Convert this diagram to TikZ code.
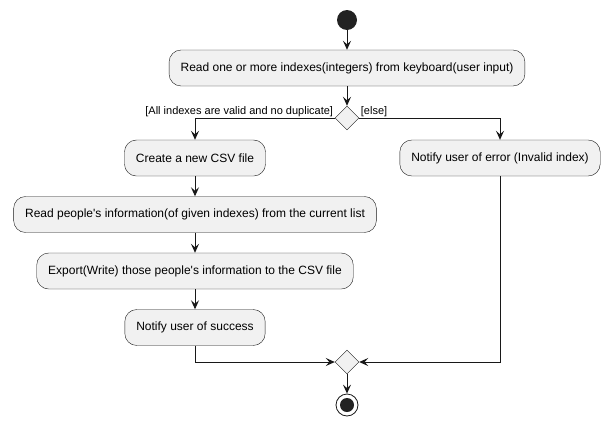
\documentclass[tikz,border=0pt]{standalone}
\usepackage{fontspec}
\setmainfont{Liberation Sans}
\usetikzlibrary{shapes.geometric, arrows.meta, positioning}
\definecolor{umlFill}{HTML}{F1F1F1}
\definecolor{umlLine}{HTML}{181818}
\definecolor{umlDot}{HTML}{222222}
\tikzstyle{mcAction} = [draw=umlLine, fill=umlFill, rounded corners=12pt, minimum height=36pt, inner xsep=11.5pt, font=\fontsize{12}{14}\selectfont]
\tikzstyle{mcBranch} = [draw=umlLine, fill=umlFill, diamond, aspect=1, minimum size=24pt, inner sep=0pt]
\tikzstyle{mcStart} = [circle, fill=umlDot, minimum size=20pt, inner sep=0pt]
\tikzstyle{mcGuard} = [font=\fontsize{11}{13}\selectfont, inner sep=1.5pt]
\tikzstyle{mcFlow} = [-{Stealth[length=9pt, width=8pt, inset=3.5pt]}, umlLine, line width=0.9pt]

\begin{document}
\begin{tikzpicture}[x=1pt, y=-1pt, node distance=56.5pt]
        \useasboundingbox (0,0) rectangle (608,426);
        % Nodes
        \node [mcStart] (start) at (347,20) {};
        \node [mcAction] (readIdx) at (347,68) {Read one or more indexes(integers) from keyboard(user input)};
        \node [mcBranch] (check) at (347,118) {};

        \node [mcAction] (create) at (195,158) {Create a new CSV file};
        \node [mcAction, below of=create] (readInfo) {Read people\textquotesingle s information(of given indexes) from the current list};
        \node [mcAction, below of=readInfo] (export) {Export(Write) those people\textquotesingle s information to the CSV file};
        \node [mcAction, below of=export] (success) {Notify user of success};

        \node [mcAction] (error) at (500,158) {Notify user of error (Invalid index)};

        \node [mcBranch] (merge) at (347,362) {};
        \node [circle, draw=umlLine, fill=white, line width=0.8pt, minimum size=22pt, inner sep=0pt] (stop) at (347,405) {};
        \node [circle, fill=umlDot, minimum size=14pt, inner sep=0pt] at (stop) {};

        % Guards
        \node [mcGuard, anchor=south east] at (check.west) {[All indexes are valid and no duplicate]};
        \node [mcGuard, anchor=south west] at (check.east) {[else]};

        % Lines
        \draw [mcFlow] (start) -- (readIdx);
        \draw [mcFlow] (readIdx) -- (check);
        \draw [mcFlow] (check.west) -| (create.north);
        \draw [mcFlow] (check.east) -| (error.north);
        \draw [mcFlow] (create) -- (readInfo);
        \draw [mcFlow] (readInfo) -- (export);
        \draw [mcFlow] (export) -- (success);
        \draw [mcFlow] (success.south) |- (merge.west);
        \draw [mcFlow] (error.south) |- (merge.east);
        \draw [mcFlow] (merge) -- (stop);
    \end{tikzpicture}
\end{document}
